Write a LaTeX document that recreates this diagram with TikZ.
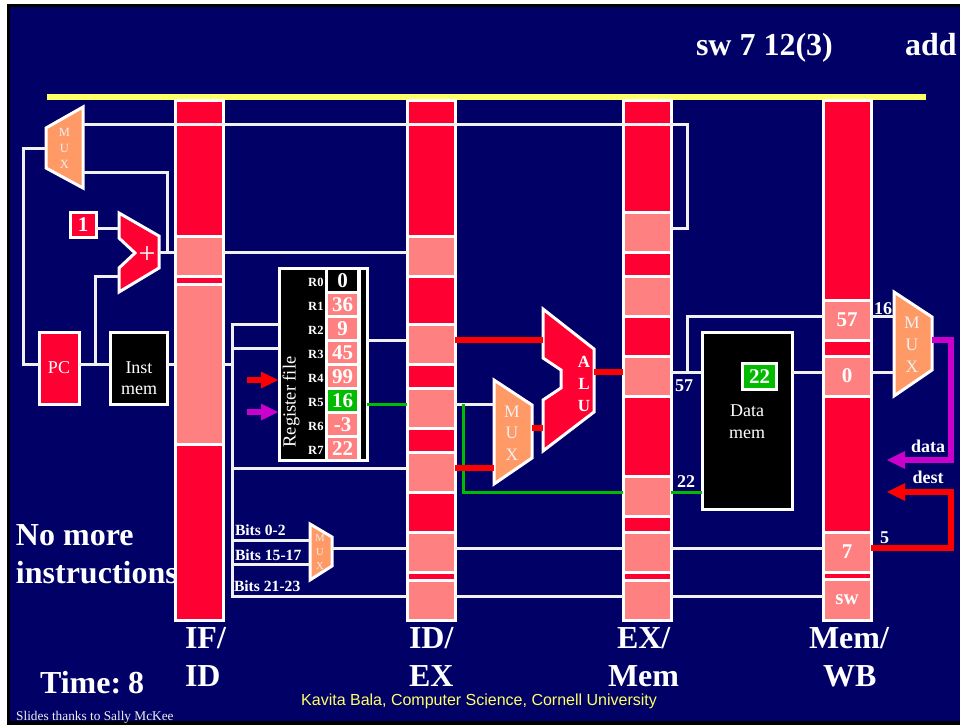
\documentclass[tikz,border=0pt]{standalone}
\usepackage{fontspec}
\setmainfont{Liberation Serif}
\newfontfamily\arialf{Liberation Sans}
\definecolor{navy}{HTML}{000066}
\definecolor{pipered}{HTML}{FF0033}
\definecolor{pink}{HTML}{FF8080}
\definecolor{muxor}{HTML}{FF9966}
\definecolor{grn}{HTML}{00BB00}
\definecolor{mag}{HTML}{CC00CC}
\definecolor{yel}{HTML}{FFFF66}
\definecolor{pale}{HTML}{F0F0F0}
\newcommand{\fs}[1]{\fontsize{#1}{#1}\selectfont}
\newcommand{\fsb}[2]{\fontsize{#1}{#2}\selectfont}
\newcommand{\dn}[2]{\raisebox{-#1pt}{#2}}
\tikzset{
  x=1pt,y=-1pt,
  boxed/.style={draw=white,line width=3pt,inner sep=0pt,outer sep=0pt,text=white,align=center},
  wire/.style={draw=pale,line width=3pt,line join=miter},
  thickred/.style={draw=red,line width=6pt},
  thickmag/.style={draw=mag,line width=6pt},
  greenw/.style={draw=grn,line width=3pt},
  poly/.style={draw=white,line width=3pt,line join=miter},
  lbl/.style={text=white,inner sep=0pt,outer sep=0pt,font=\bfseries},
  big/.style={text=white,inner sep=0pt,outer sep=0pt,anchor=base west,font=\bfseries\fs{32}},
  muxl/.style={text=pale,inner sep=0pt,outer sep=0pt,align=center},
}
% \seg{name}{x1}{y1}{x2}{y2}{color}{text}
\newcommand{\seg}[7]{%
  \pgfmathsetmacro{\segw}{#4-#2}\pgfmathsetmacro{\segh}{#5-#3}%
  \pgfmathsetmacro{\segx}{(#2+#4)/2}\pgfmathsetmacro{\segy}{(#3+#5)/2}%
  \node[boxed,fill=#6,minimum width=\segw pt,minimum height=\segh pt] (#1) at (\segx,\segy) {#7};}
\begin{document}
\begin{tikzpicture}
\useasboundingbox (0,0) rectangle (960,725);
\fill[white] (0,0) rectangle (960,725);
\fill[black] (7,4) rectangle (960,725);
\fill[navy] (9.5,7) rectangle (960,721);
\fill[yel] (47,94) rectangle (926,99.5);

% pipeline bars
\seg{ifA}{175}{100}{223}{236}{pipered}{}
\seg{ifB}{175}{236}{223}{276}{pink}{}
\seg{ifC}{175}{276}{223}{284}{pipered}{}
\seg{ifD}{175}{284}{223}{444}{pink}{}
\seg{ifE}{175}{444}{223}{620}{pipered}{}

\seg{idA}{407}{100}{455}{236}{pipered}{}
\seg{idB}{407}{236}{455}{276}{pink}{}
\seg{idC}{407}{276}{455}{324}{pipered}{}
\seg{idD}{407}{324}{455}{364}{pink}{}
\seg{idE}{407}{364}{455}{388}{pipered}{}
\seg{idF}{407}{388}{455}{428}{pink}{}
\seg{idG}{407}{428}{455}{452}{pipered}{}
\seg{idH}{407}{452}{455}{492}{pink}{}
\seg{idI}{407}{492}{455}{532}{pipered}{}
\seg{idJ}{407}{532}{455}{572}{pink}{}
\seg{idK}{407}{572}{455}{580}{pipered}{}
\seg{idL}{407}{580}{455}{620}{pink}{}

\seg{exA}{623}{100}{671}{212}{pipered}{}
\seg{exB}{623}{212}{671}{252}{pink}{}
\seg{exC}{623}{252}{671}{276}{pipered}{}
\seg{exD}{623}{276}{671}{316}{pink}{}
\seg{exE}{623}{316}{671}{356}{pipered}{}
\seg{exF}{623}{356}{671}{396}{pink}{}
\seg{exG}{623}{396}{671}{476}{pipered}{}
\seg{exH}{623}{476}{671}{516}{pink}{}
\seg{exI}{623}{516}{671}{532}{pipered}{}
\seg{exJ}{623}{532}{671}{572}{pink}{}
\seg{exK}{623}{572}{671}{580}{pipered}{}
\seg{exL}{623}{580}{671}{620}{pink}{}

\seg{wbA}{823}{100}{871}{300}{pipered}{}
\seg{wbB}{823}{300}{871}{340}{pink}{\dn{2}{\bfseries\fs{21}57}}
\seg{wbC}{823}{340}{871}{356}{pipered}{}
\seg{wbD}{823}{356}{871}{396}{pink}{\dn{1}{\bfseries\fs{21}0}}
\seg{wbE}{823}{396}{871}{532}{pipered}{}
\seg{wbF}{823}{532}{871}{572}{pink}{\dn{1}{\bfseries\fs{21}7}}
\seg{wbG}{823}{572}{871}{579}{pipered}{}
\seg{wbH}{823}{579}{871}{620}{pink}{\dn{3}{\bfseries\fs{21}sw}}

% boxes
\seg{pc}{39}{332}{79}{404}{pipered}{\fs{18}PC}
\seg{imem}{110}{332}{167}{404}{black}{}
\node[muxl,text=white,font=\fsb{18}{21}] (imlab) at (139,378) {Inst\\mem};
\seg{one}{70}{212}{96}{237}{pipered}{\bfseries\fs{21}1}
\seg{dmem}{702}{332}{792}{509}{black}{}
\seg{dval}{742.5}{363.5}{776.5}{389}{grn}{\bfseries\fs{21}22}
\node[muxl,text=white,font=\fsb{18}{22}] (dlab) at (747,422) {Data\\mem};

% register file
\seg{rf}{279}{268}{367}{460}{black}{}
\draw[draw=white,line width=3pt] (rf.north -| 326.5,0) -- (rf.south -| 326.5,0);
\draw[draw=white,line width=3pt] (rf.north -| 359.5,0) -- (rf.south -| 359.5,0);
\seg{rA}{326.5}{268}{358.5}{292.5}{black}{\bfseries\fs{21}0}
\seg{rB}{326.5}{292.5}{358.5}{316.5}{pink}{\bfseries\fs{21}36}
\seg{rC}{326.5}{316.5}{358.5}{340.5}{pink}{\bfseries\fs{21}9}
\seg{rD}{326.5}{340.5}{358.5}{364.5}{pink}{\bfseries\fs{21}45}
\seg{rE}{326.5}{364.5}{358.5}{388.5}{pink}{\bfseries\fs{21}99}
\seg{rF}{326.5}{388.5}{358.5}{412.5}{grn}{\bfseries\fs{21}16}
\seg{rG}{326.5}{412.5}{358.5}{436.5}{pink}{\bfseries\fs{21}-3}
\seg{rH}{326.5}{436.5}{358.5}{460}{pink}{\bfseries\fs{21}22}
\foreach \n/\lab/\yy in {la/R0/282,lb/R1/306,lc/R2/330,ld/R3/354,le/R4/378,lf/R5/402,lg/R6/426,lh/R7/450}
  \node[lbl,font=\bfseries\fs{12.5},anchor=east] (\n) at (323.5,\yy) {\lab};
\node[muxl,text=white,rotate=90,font=\fs{18.5}] (rflab) at (291,402) {Register file};

% polygons
\draw[poly,fill=muxor] (46,128) -- (83,107) -- (83,188) -- (46,168) -- cycle;
\draw[poly,fill=pipered] (119,213) -- (159,236) -- (159,268) -- (119,292) -- (119,268) -- (135,253) -- (119,238) -- cycle;
\draw[poly,fill=muxor] (310,524) -- (332,537) -- (332,566) -- (310,580) -- cycle;
\draw[poly,fill=muxor] (494,380) -- (532,405) -- (532,458) -- (494,484) -- cycle;
\draw[poly,fill=pipered] (543,309) -- (594,349) -- (594,412) -- (543,451) -- (543,400) -- (561,388) -- (561,370) -- (543,358) -- cycle;
\draw[poly,fill=muxor] (894,292) -- (932,317) -- (932,370) -- (894,396) -- cycle;

\node[muxl,font=\fsb{12.5}{16}] (m1) at (64.5,148) {M\\U\\X};
\node[muxl,text=white,font=\fs{30}] (plus) at (147,255) {+};
\node[muxl,font=\fsb{10.5}{14}] (m2) at (320,552) {M\\U\\X};
\node[muxl,font=\fsb{17.5}{21.5}] (m3) at (512,433) {M\\U\\X};
\node[muxl,text=white,font=\bfseries\fsb{17}{22}] (alu) at (584,384) {A\\L\\U};
\node[muxl,font=\fsb{17.5}{22}] (m4) at (912,345) {M\\U\\X};

% junctions
\coordinate (m1top) at (83,124);
\coordinate (m1bot) at (83,172);
\coordinate (m1in) at (46,148);
\coordinate (addout) at (159,252);
\coordinate (addA) at (119,228);
\coordinate (addB) at (119,276);
\coordinate (smA) at (310,540);
\coordinate (smB) at (310,564);
\coordinate (smO) at (332,548);
\coordinate (m3A) at (494,404);
\coordinate (m3B) at (494,468);
\coordinate (m3O) at (532,428);
\coordinate (aluA) at (543,340);
\coordinate (aluB) at (543,428);
\coordinate (aluO) at (594,372);
\coordinate (m4A) at (894,316);
\coordinate (m4B) at (894,372);
\coordinate (m4O) at (932,340);
\coordinate (rfW) at (279,324);
\coordinate (rfW2) at (279,348);
\coordinate (dataT) at (887,460);
\coordinate (destT) at (887,492);
\coordinate (dmemL) at (702,372);
\coordinate (dmemG) at (702,492);
\coordinate (dmemR) at (792,372);

% white wires
\draw[wire] (m1top) -- (ifA.west |- m1top);
\draw[wire] (ifA.west |- m1top) -- (ifA.east |- m1top);
\draw[wire] (ifA.east |- m1top) -- (idA.west |- m1top);
\draw[wire] (idA.west |- m1top) -- (idA.east |- m1top);
\draw[wire] (idA.east |- m1top) -- (exA.west |- m1top);
\draw[wire] (exA.west |- m1top) -- (exA.east |- m1top);
\draw[wire] (exA.east |- m1top) -- (687,124) -- (687,228) -- (exB.east |- 0,228);
\draw[wire] (m1bot) -- (167,172) -- (167,252);
\draw[wire] (addout) -- (ifB.west |- addout);
\draw[wire] (ifB.east |- addout) -- (idB.west |- addout);
\draw[wire] (m1in) -- (23,148) -- (23,364) -- (pc.west |- 0,364);
\draw[wire] (pc.east |- 0,364) -- (imem.west |- 0,364);
\draw[wire] (95,364) -- (95,276) -- (addB);
\draw[wire] (one.east |- addA) -- (addA);
\draw[wire] (imem.east |- 0,364) -- (ifD.west |- 0,364);
\draw[wire] (ifD.east |- 0,364) -- (232,364);
\draw[wire] (rfW) -- (232,324) -- (232,596) -- (idL.west |- 0,596);
\draw[wire] (rfW2) -- (232,348);
\draw[wire] (232,468) -- (idH.west |- 0,468);
\draw[wire] (232,540) -- (smA);
\draw[wire] (232,564) -- (smB);
\draw[wire] (smO) -- (idJ.west |- smO);
\draw[wire] (idJ.east |- smO) -- (exJ.west |- smO);
\draw[wire] (exJ.east |- smO) -- (wbF.west |- smO);
\draw[wire] (idL.east |- 0,596) -- (exL.west |- 0,596);
\draw[wire] (exL.east |- 0,596) -- (wbH.west |- 0,596);
\draw[wire] (rf.east |- 0,340) -- (idD.west |- 0,340);
\draw[wire] (idF.east |- m3A) -- (m3A);
\draw[wire] (exF.east |- dmemL) -- (dmemL);
\draw[wire] (687,372) -- (687,316) -- (wbB.west |- m4A);
\draw[wire] (dmemR) -- (wbD.west |- dmemR);
\draw[wire] (wbB.east |- m4A) -- (m4A);
\draw[wire] (wbD.east |- m4B) -- (m4B);

% green wires
\draw[greenw] (rf.east |- 0,404) -- (idF.west |- 0,404);
\draw[greenw] (463,404) -- (463,492) -- (exH.west |- 0,492);
\draw[greenw] (exH.east |- dmemG) -- (dmemG);

% thick wires
\draw[thickred] (idD.east |- aluA) -- (aluA);
\draw[thickred] (idH.east |- m3B) -- (m3B);
\draw[thickred] (m3O) -- (aluB);
\draw[thickred] (aluO) -- (exF.west |- aluO);
\draw[thickmag,line join=miter] (m4O) -- (951,340) -- (951,460) -- (905,460);
\fill[mag] (dataT) -- (905,451) -- (905,469) -- cycle;
\draw[thickred,line join=miter] (wbF.east |- 0,548) -- (951,548) -- (951,492) -- (905,492);
\fill[red] (destT) -- (905,483) -- (905,501) -- cycle;
% small arrows to register file
\coordinate (rA1) at (247,380); \coordinate (rA2) at (261,380);
\coordinate (rB1) at (247,412); \coordinate (rB2) at (261,412);
\draw[thickred] (rA1) -- (rA2);
\fill[red] (278,380) -- (261,371.5) -- (261,388.5) -- cycle;
\draw[thickmag] (rB1) -- (rB2);
\fill[mag] (278,412) -- (261,403.5) -- (261,420.5) -- cycle;

% labels
\node[lbl,font=\bfseries\fs{32},anchor=base west] (t1) at (696,56) {sw 7 12(3)};
\node[lbl,font=\bfseries\fs{32},anchor=base west] (t2) at (905,56) {add};
\node[big] (nm) at (16,545) {No more};
\node[big] (ni) at (16,583) {instructions};
\node[big] (tm) at (40,693) {Time:\kern-1pt\ 8};
\node[big] (l1a) at (185,648) {IF/};
\node[big] (l1b) at (185,686) {ID};
\node[big] (l2a) at (409,648) {ID/};
\node[big] (l2b) at (409,686) {EX};
\node[big] (l3a) at (617,648) {EX/};
\node[big] (l3b) at (608,686) {Mem};
\node[big] (l4a) at (809,648) {Mem/};
\node[big] (l4b) at (823,686) {WB};
\foreach \n/\lab/\xx/\yy in {b1/Bits 0-2/235/535,b2/Bits 15-17/235/560,b3/Bits 21-23/234/591}
  \node[lbl,font=\bfseries\fs{15.6},anchor=base west] (\n) at (\xx,\yy) {\lab};
\foreach \n/\lab/\xx/\yy in {v1/57/675/391,v2/22/677/487,v3/16/874/314,v4/5/880/543,v5/data/911/452,v6/dest/912.5/483}
  \node[lbl,font=\bfseries\fs{18},anchor=base west] (\n) at (\xx,\yy) {\lab};
\node[text=yel,inner sep=0pt,anchor=base west,font=\arialf\fs{16}] (kb) at (301,705) {Kavita Bala, Computer Science, Cornell University};
\node[text=pale,inner sep=0pt,anchor=base west,font=\fs{13.3}] (st) at (16,720) {Slides thanks to Sally McKee};
\end{tikzpicture}
\end{document}
